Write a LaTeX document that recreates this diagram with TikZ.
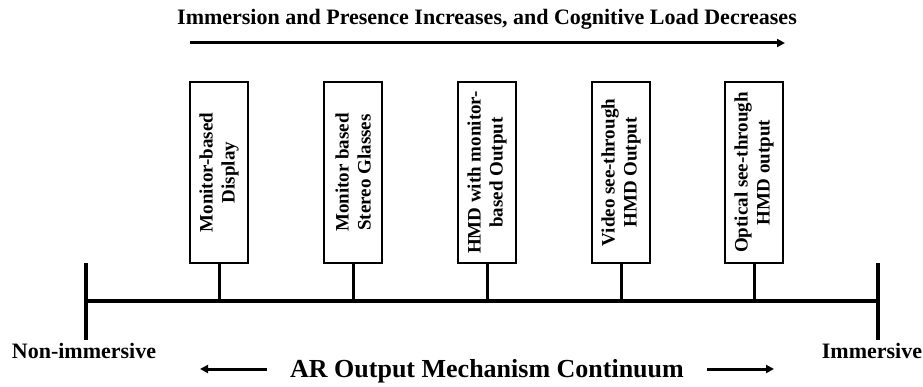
\documentclass[tikz,border=0pt]{standalone}
\usepackage{fontspec}
\setmainfont{Liberation Serif}
\usetikzlibrary{arrows.meta}
\begin{document}
\begin{tikzpicture}[x=1pt,y=-1pt,
  box/.style={draw, line width=2.4pt, rotate=90, minimum width=181pt, minimum height=58pt,
    inner sep=0pt, align=center, font=\bfseries\fontsize{19}{22}\selectfont},
  stem/.style={line width=3pt},
  mainline/.style={line width=4pt},
  tick/.style={line width=3.2pt},
  arr/.style={line width=3pt, -{Triangle[length=8pt,width=8pt]}},
  lbl/.style={inner sep=0pt, font=\bfseries\fontsize{22}{26}\selectfont}]
\useasboundingbox (0,0) rectangle (923,387);
% title and arrow
\node[lbl] (title) at (487,19) {Immersion and Presence Increases, and Cognitive Load Decreases};
\coordinate (ta1) at (190,43);
\coordinate (ta2) at (785,43);
\draw[arr] (ta1) -- (ta2);
% boxes
\node[box] (b1) at (219,172.5) {Monitor-based\\Display};
\node[box] (b2) at (353,172.5) {Monitor based\\Stereo Glasses};
\node[box] (b3) at (487,172.5) {HMD with monitor-\\based Output};
\node[box] (b4) at (621,172.5) {Video see-through\\HMD Output};
\node[box] (b5) at (754,172.5) {Optical see-through\\HMD output};
% main line
\coordinate (L) at (86,301);
\coordinate (R) at (878,301);
\coordinate (Lt) at (86,263);
\coordinate (Lb) at (86,340);
\coordinate (Rt) at (878,263);
\coordinate (Rb) at (878,340);
\draw[mainline] (L) -- (R);
\draw[tick] (Lt) -- (Lb);
\draw[tick] (Rt) -- (Rb);
\foreach \i in {1,...,5} {\draw[stem] (b\i.west) -- (b\i.west |- L);}
% end labels
\node[lbl] (non) at (84,351) {Non-immersive};
\node[lbl] (imm) at (872,351) {Immersive};
% bottom
\node[lbl, font=\bfseries\fontsize{26}{30}\selectfont] (cont) at (487,371) {AR Output Mechanism Continuum};
\coordinate (la1) at (267,369);
\coordinate (la2) at (200,369);
\coordinate (ra1) at (707,369);
\coordinate (ra2) at (774,369);
\draw[arr] (la1) -- (la2);
\draw[arr] (ra1) -- (ra2);
\end{tikzpicture}
\end{document}
